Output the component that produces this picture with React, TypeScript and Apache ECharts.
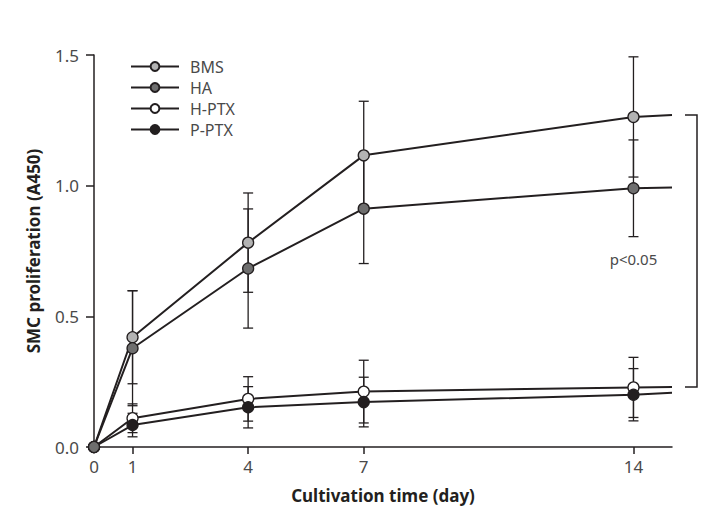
import React, { useEffect, useRef } from "react";
import * as echarts from "echarts";

const days = [0, 1, 4, 7, 14];
const xTickLabels = [0, 1, 4, 7, 14];
const xTickMarks = [1, 4, 7, 14];
const yTicks = [0, 0.5, 1.0, 1.5];

const seriesNames = ["BMS", "HA", "H-PTX", "P-PTX"];
const bmsValues = [0, 0.42, 0.782, 1.116, 1.263];
const bmsErrors = [0, 0.178, 0.19, 0.207, 0.23];
const haValues = [0, 0.378, 0.683, 0.912, 0.99];
const haErrors = [0, 0.22, 0.228, 0.21, 0.185];
const hptxValues = [0, 0.11, 0.184, 0.212, 0.228];
const hptxErrors = [0, 0.055, 0.085, 0.12, 0.115];
const pptxValues = [0, 0.084, 0.152, 0.172, 0.2];
const pptxErrors = [0, 0.045, 0.079, 0.095, 0.1];

// lines run on past the last measurement to the right edge of the plot
const lineEndDay = 15;
const lineEndValues = [1.27, 0.993, 0.23, 0.208];

const markerFills = ["#b3b3b3", "#6e6e6e", "#ffffff", "#231f20"];
const ink = "#231f20";
const labelGray = "#4a4a4a";
const significance = "p<0.05";
const sigPos = [14, 0.72];

const FONT = "'Noto Sans', 'Open Sans', sans-serif";

export default function App() {
  const ref = useRef<HTMLDivElement>(null);
  useEffect(() => {
    if (!ref.current) return;
    const chart = echarts.init(ref.current, null, { renderer: "svg" });
    const allValues = [bmsValues, haValues, hptxValues, pptxValues];
    const allErrors = [bmsErrors, haErrors, hptxErrors, pptxErrors];
    const zs = [5, 6, 3, 4];

    const lineSeries = seriesNames.map((name, i) => ({
      name,
      type: "line",
      z: zs[i],
      data: [
        ...days.map((d, j) => [d, allValues[i][j]]),
        { value: [lineEndDay, lineEndValues[i]], symbol: "none" },
      ],
      symbol: "circle",
      symbolSize: 11,
      showAllSymbol: true,
      lineStyle: { color: ink, width: 2 },
      itemStyle: { color: markerFills[i], borderColor: ink, borderWidth: 1.3 },
      clip: false,
    }));

    const errSeries = seriesNames.map((name, i) => ({
      name: name + "-err",
      type: "custom",
      z: 2,
      silent: true,
      data: days.map((d, j) => [d, allValues[i][j], allErrors[i][j]]),
      renderItem: (params: any, api: any) => {
        const x = api.value(0);
        const y = api.value(1);
        const e = api.value(2);
        if (!e) return { type: "group", children: [] };
        const top = api.coord([x, y + e]);
        const bot = api.coord([x, y - e]);
        const hw = 5;
        const style = { stroke: ink, lineWidth: 1.3 };
        return {
          type: "group",
          children: [
            { type: "line", shape: { x1: top[0], y1: top[1], x2: bot[0], y2: bot[1] }, style },
            { type: "line", shape: { x1: top[0] - hw, y1: top[1], x2: top[0] + hw, y2: top[1] }, style },
            { type: "line", shape: { x1: bot[0] - hw, y1: bot[1], x2: bot[0] + hw, y2: bot[1] }, style },
          ],
        };
      },
    }));

    chart.setOption({
      animation: false,
      textStyle: { fontFamily: FONT },
      grid: { left: 94, right: 43, top: 55, bottom: 66, containLabel: false },
      legend: {
        data: seriesNames,
        orient: "vertical",
        left: 125,
        top: 53,
        itemWidth: 48,
        itemHeight: 11,
        itemGap: 4,
        textStyle: { fontFamily: FONT, fontSize: 16, color: labelGray, lineHeight: 17, padding: [0, 0, 0, 6] },
      },
      xAxis: {
        type: "value",
        min: 0,
        max: 15,
        name: "Cultivation time (day)",
        nameLocation: "middle",
        nameGap: 40,
        nameTextStyle: { fontFamily: FONT, fontSize: 17, fontWeight: "bold", color: ink },
        axisLine: { show: true, lineStyle: { color: ink, width: 1.5 } },
        axisTick: { show: true, length: 7, customValues: xTickMarks, lineStyle: { color: ink, width: 1.5 } },
        axisLabel: { customValues: xTickLabels, fontSize: 17, color: labelGray, margin: 11, fontFamily: FONT },
        splitLine: { show: false },
      },
      yAxis: {
        type: "value",
        min: 0,
        max: 1.5,
        interval: 0.5,
        name: "SMC proliferation (A450)",
        nameLocation: "middle",
        nameGap: 52,
        nameTextStyle: { fontFamily: FONT, fontSize: 17, fontWeight: "bold", color: ink },
        axisLine: { show: true, lineStyle: { color: ink, width: 1.5 } },
        axisTick: { show: true, length: 8, lineStyle: { color: ink, width: 1.5 } },
        axisLabel: {
          fontSize: 17,
          color: labelGray,
          margin: 15,
          fontFamily: FONT,
          formatter: (v: number) => (yTicks.includes(v) ? v.toFixed(1) : ""),
        },
        splitLine: { show: false },
      },
      series: [...errSeries, ...lineSeries],
    });

    const xEnd = chart.convertToPixel({ gridIndex: 0 }, [lineEndDay, lineEndValues[0]]);
    const yLow = chart.convertToPixel({ gridIndex: 0 }, [lineEndDay, lineEndValues[2]]);
    const sp = chart.convertToPixel({ gridIndex: 0 }, sigPos);
    const bx1 = xEnd[0] + 13;
    const bx2 = xEnd[0] + 25;
    chart.setOption({
      graphic: [
        {
          type: "polyline",
          shape: { points: [[bx1, xEnd[1]], [bx2, xEnd[1]], [bx2, yLow[1]], [bx1, yLow[1]]] },
          style: { stroke: ink, lineWidth: 1.5, fill: "none" },
        },
        {
          type: "text",
          x: sp[0],
          y: sp[1],
          style: { text: significance, fontFamily: FONT, fontSize: 15, fill: labelGray, align: "center", verticalAlign: "middle" },
        },
      ],
    });

    return () => chart.dispose();
  }, []);
  return <div ref={ref} style={{ position: "absolute", left: 0, top: 0, width: 715, height: 513 }} />;
}
